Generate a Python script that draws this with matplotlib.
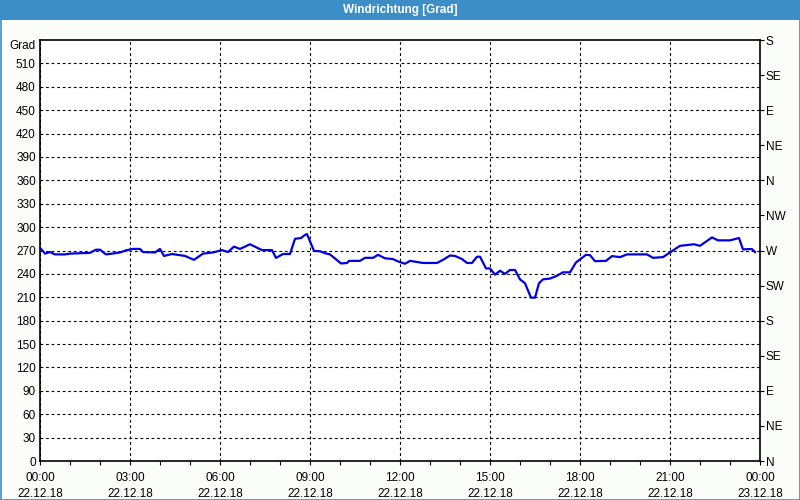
import matplotlib
matplotlib.use("Agg")
import matplotlib.pyplot as plt
from matplotlib.patches import Rectangle

# ---- data ----
minutes = [2, 10, 20, 30, 50, 60, 100, 112, 120, 132, 150, 160, 174, 186, 200, 206, 230, 240,
           248, 264, 290, 308, 326, 346, 364, 376, 388, 400, 420, 444, 464, 472, 486, 500, 510,
           522, 530, 534, 548, 560, 570, 580, 602, 614, 618, 640, 650, 666, 676, 690, 706, 716,
           730, 740, 766, 794, 806, 820, 830, 844, 854, 864, 874, 880, 892, 900, 910, 920, 930,
           940, 950, 960, 970, 982, 990, 998, 1006, 1020, 1032, 1046, 1060, 1072, 1092, 1100,
           1110, 1132, 1144, 1160, 1174, 1214, 1226, 1246, 1260, 1280, 1308, 1320, 1344, 1356,
           1380, 1398, 1406, 1416, 1424, 1430]
direction = [272, 266, 268, 265, 265, 266, 267, 271, 271, 265, 266.5, 267.5, 270.5, 272, 272, 268,
             267.5, 272, 263, 265.5, 263, 258, 266, 267.5, 270.5, 268, 275, 272, 278, 270.5, 270.5,
             260.5, 265.5, 265.5, 285, 286, 290, 291, 269.5, 269, 266.5, 265, 253.4, 254, 256.7,
             256.7, 260.6, 260.6, 264.5, 260, 259, 256, 253, 256.7, 254, 254, 258, 263.6, 263,
             259, 254, 254, 262, 262, 247, 247, 239, 244, 240, 245, 245, 233, 228, 209.5, 209.5,
             228, 233, 234, 237, 242, 242, 254.7, 264.5, 264, 256.3, 256.7, 262.8, 261.5, 265,
             265, 260.6, 261.5, 267.5, 276, 278, 276, 286.8, 283, 283, 286, 271.4, 271.8, 271.8,
             268]
hours = [m / 60.0 for m in minutes]

x_ticks = [0, 3, 6, 9, 12, 15, 18, 21, 24]
x_labels = ["00:00\n22.12.18", "03:00\n22.12.18", "06:00\n22.12.18", "09:00\n22.12.18",
            "12:00\n22.12.18", "15:00\n22.12.18", "18:00\n22.12.18", "21:00\n22.12.18",
            "00:00\n23.12.18"]
y_ticks = list(range(0, 540, 30))
compass_ticks = list(range(0, 541, 45))
compass_labels = ["N", "NE", "E", "SE", "S", "SW", "W", "NW", "N", "NE", "E", "SE", "S"]
title = "Windrichtung [Grad]"
unit = "Grad"

# ---- figure ----
plt.rcParams["font.family"] = ["Liberation Sans", "DejaVu Sans"]
fig = plt.figure(figsize=(8, 5), dpi=100)
fig.patch.set_facecolor("#fbfdfb")

blue = "#3b8fc6"
# title bar and frame
fig.add_artist(Rectangle((0, 1 - 20 / 500), 1, 20 / 500, transform=fig.transFigure,
                         facecolor=blue, edgecolor="none", zorder=0))
fig.add_artist(Rectangle((0.5 / 800, 0.5 / 500), 1 - 1 / 800, 1 - 1 / 500, transform=fig.transFigure,
                         facecolor="none", edgecolor=blue, linewidth=1.2, zorder=0))
fig.text(0.5, 1 - 10 / 500, title, color="white", fontsize=8.5, fontweight="bold",
         ha="center", va="center")

ax = fig.add_axes([40 / 800, 1 - 461 / 500, 720 / 800, 421 / 500])
ax.set_facecolor("white")
ax.plot(hours, direction, color="#0000e0", linewidth=1.6, zorder=3)

ax.set_xlim(0, 24)
ax.set_ylim(0, 540)
ax.set_xticks(x_ticks)
ax.set_xticklabels(x_labels, fontsize=8.5, linespacing=1.45)
ax.set_xticks(range(0, 25), minor=True)
ax.set_yticks(y_ticks)
ax.set_yticklabels([str(v) for v in y_ticks], fontsize=8.5)
ax.tick_params(axis="y", length=0, pad=3)
ax.tick_params(axis="x", which="both", length=3, direction="out", pad=5, width=0.8)
ax.grid(True, which="major", color="black", linestyle=(0, (2.5, 2.5)), linewidth=0.8)
for s in ax.spines.values():
    s.set_color("black")
    s.set_linewidth(1.2)

ax.text(-0.006, 532, unit, transform=ax.get_yaxis_transform(), ha="right", va="center", fontsize=8.5)

ax2 = ax.twinx()
ax2.set_ylim(0, 540)
ax2.set_yticks(compass_ticks)
ax2.set_yticklabels(compass_labels, fontsize=8.5)
ax2.tick_params(axis="y", length=3, direction="out", pad=1, width=0.8)
for s in ax2.spines.values():
    s.set_visible(False)

fig.savefig("out.png", dpi=100, facecolor=fig.get_facecolor())
